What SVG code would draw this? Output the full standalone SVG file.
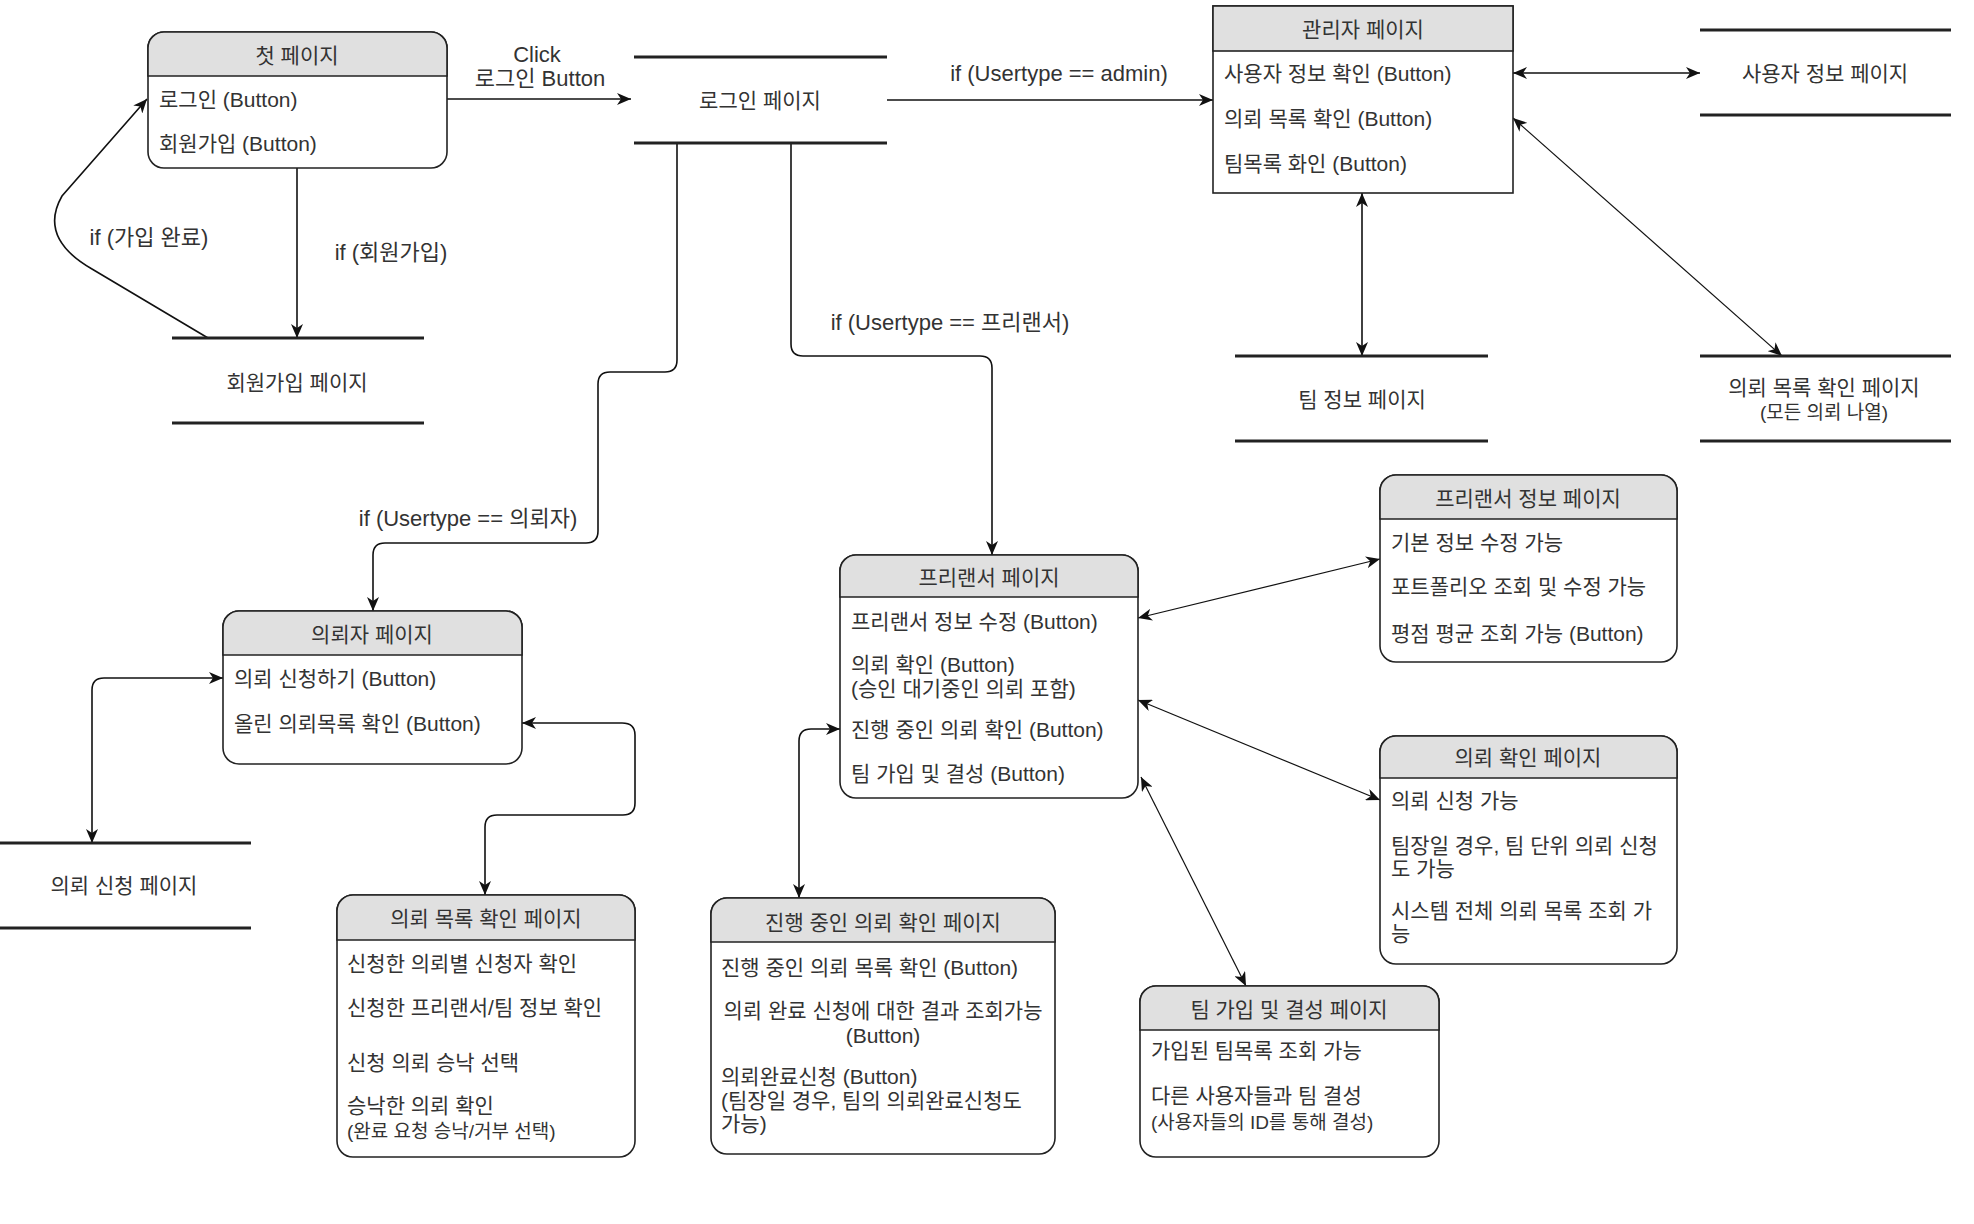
<svg xmlns="http://www.w3.org/2000/svg" width="1974" height="1224" viewBox="0 0 1974 1224">
<style>
text{font-family:"Liberation Sans","Noto Sans CJK KR",sans-serif;font-size:21px;fill:#333;dominant-baseline:central}
.c{text-anchor:middle}
.s{font-size:19px}
.l{font-size:22px}
.box{fill:#fff;stroke:#222;stroke-width:1.6}
.hd{fill:#e0e0e0;stroke:#222;stroke-width:1.6}
.ds{stroke:#222;stroke-width:3.2}
.e{fill:none;stroke:#111;stroke-width:1.6;marker-end:url(#a)}
.b{fill:none;stroke:#111;stroke-width:1.6;marker-end:url(#a);marker-start:url(#a)}
.t{stroke-width:1.2}
</style>
<defs>
<marker id="a" viewBox="0 0 14 12" refX="14" refY="6" markerWidth="14" markerHeight="12" markerUnits="userSpaceOnUse" orient="auto-start-reverse"><path d="M0,0 L14,6 L0,12 L4,6 z" fill="#111"/></marker>
</defs>
<rect width="1974" height="1224" fill="#fff"/>

<g id="edges">
<path class="e" d="M447,99 H631"/>
<path class="e" d="M297,168 V338"/>
<path class="e" d="M208,338 L92,269 Q38,238 62,196 L147,99"/>
<path class="e" d="M887,100 H1213"/>
<path class="e" d="M677,143 V360 Q677,372 665,372 H610 Q598,372 598,384 V531 Q598,543 586,543 H385 Q373,543 373,555 V611"/>
<path class="e" d="M791,143 V344 Q791,356 803,356 H980 Q992,356 992,368 V555"/>
<path class="b" d="M1513,73 H1700"/>
<path class="b" d="M1362,193 V356"/>
<path class="b t" d="M1513,118 L1782,356"/>
<path class="b" d="M223,678 H104 Q92,678 92,690 V843"/>
<path class="b" d="M522,723 H622 Q635,723 635,735 V803 Q635,815 623,815 H497 Q485,815 485,827 V895"/>
<path class="b" d="M840,729 H811 Q799,729 799,741 V898"/>
<path class="b t" d="M1138,618 L1380,559"/>
<path class="b t" d="M1138,700 L1380,800"/>
<path class="b t" d="M1141,777 L1246,986"/>
<text class="c l" x="537" y="54">Click</text>
<text class="c l" x="540" y="78">로그인 Button</text>
<text class="c l" x="391" y="252">if (회원가입)</text>
<text class="c l" x="149" y="237">if (가입 완료)</text>
<text class="c l" x="1059" y="73">if (Usertype == admin)</text>
<text class="c l" x="950" y="322">if (Usertype == 프리랜서)</text>
<text class="c l" x="468" y="518">if (Usertype == 의뢰자)</text>
</g>

<g id="first">
<rect class="box" x="148" y="32" width="299" height="136" rx="16"/>
<path class="hd" d="M148,76 V48 A16,16 0 0 1 164,32 H431 A16,16 0 0 1 447,48 V76 Z"/>
<text class="c" x="297" y="55">첫 페이지</text>
<text x="159" y="99">로그인 (Button)</text>
<text x="159" y="143">회원가입 (Button)</text>
</g>

<g id="login">
<line class="ds" x1="634" y1="57" x2="887" y2="57"/>
<line class="ds" x1="634" y1="143" x2="887" y2="143"/>
<text class="c" x="760" y="100">로그인 페이지</text>
</g>

<g id="signup">
<line class="ds" x1="172" y1="338" x2="424" y2="338"/>
<line class="ds" x1="172" y1="423" x2="424" y2="423"/>
<text class="c" x="297" y="382">회원가입 페이지</text>
</g>

<g id="admin">
<rect class="box" x="1213" y="6" width="300" height="187"/>
<rect class="hd" x="1213" y="6" width="300" height="45"/>
<text class="c" x="1363" y="29">관리자 페이지</text>
<text x="1224" y="73">사용자 정보 확인 (Button)</text>
<text x="1224" y="118">의뢰 목록 확인 (Button)</text>
<text x="1224" y="163">팀목록 화인 (Button)</text>
</g>

<g id="userinfo">
<line class="ds" x1="1700" y1="30" x2="1951" y2="30"/>
<line class="ds" x1="1700" y1="115" x2="1951" y2="115"/>
<text class="c" x="1825" y="73">사용자 정보 페이지</text>
</g>

<g id="teaminfo">
<line class="ds" x1="1235" y1="356" x2="1488" y2="356"/>
<line class="ds" x1="1235" y1="441" x2="1488" y2="441"/>
<text class="c" x="1362" y="399">팀 정보 페이지</text>
</g>

<g id="alllist">
<line class="ds" x1="1700" y1="356" x2="1951" y2="356"/>
<line class="ds" x1="1700" y1="441" x2="1951" y2="441"/>
<text class="c" x="1824" y="387">의뢰 목록 확인 페이지</text>
<text class="c s" x="1824" y="412">(모든 의뢰 나열)</text>
</g>

<g id="client">
<rect class="box" x="223" y="611" width="299" height="153" rx="16"/>
<path class="hd" d="M223,655 V627 A16,16 0 0 1 239,611 H506 A16,16 0 0 1 522,627 V655 Z"/>
<text class="c" x="372" y="634">의뢰자 페이지</text>
<text x="234" y="678">의뢰 신청하기 (Button)</text>
<text x="234" y="723">올린 의뢰목록 확인 (Button)</text>
</g>

<g id="request">
<line class="ds" x1="0" y1="843" x2="251" y2="843"/>
<line class="ds" x1="0" y1="928" x2="251" y2="928"/>
<text class="c" x="124" y="885">의뢰 신청 페이지</text>
</g>

<g id="clientlist">
<rect class="box" x="337" y="895" width="298" height="262" rx="16"/>
<path class="hd" d="M337,940 V911 A16,16 0 0 1 353,895 H619 A16,16 0 0 1 635,911 V940 Z"/>
<text class="c" x="486" y="918">의뢰 목록 확인 페이지</text>
<text x="347" y="963">신청한 의뢰별 신청자 확인</text>
<text x="347" y="1007">신청한 프리랜서/팀 정보 확인</text>
<text x="347" y="1062">신청 의뢰 승낙 선택</text>
<text x="347" y="1105">승낙한 의뢰 확인</text>
<text class="s" x="347" y="1131">(완료 요청 승낙/거부 선택)</text>
</g>

<g id="ongoing">
<rect class="box" x="711" y="898" width="344" height="256" rx="16"/>
<path class="hd" d="M711,942 V914 A16,16 0 0 1 727,898 H1039 A16,16 0 0 1 1055,914 V942 Z"/>
<text class="c" x="883" y="922">진행 중인 의뢰 확인 페이지</text>
<text x="721" y="967">진행 중인 의뢰 목록 확인 (Button)</text>
<text class="c" x="883" y="1010">의뢰 완료 신청에 대한 결과 조회가능</text>
<text class="c" x="883" y="1035">(Button)</text>
<text x="721" y="1076">의뢰완료신청 (Button)</text>
<text x="721" y="1100">(팀장일 경우, 팀의 의뢰완료신청도</text>
<text x="721" y="1123">가능)</text>
</g>

<g id="freelancer">
<rect class="box" x="840" y="555" width="298" height="243" rx="16"/>
<path class="hd" d="M840,597 V571 A16,16 0 0 1 856,555 H1122 A16,16 0 0 1 1138,571 V597 Z"/>
<text class="c" x="989" y="577">프리랜서 페이지</text>
<text x="851" y="621">프리랜서 정보 수정 (Button)</text>
<text x="851" y="664">의뢰 확인 (Button)</text>
<text x="851" y="688">(승인 대기중인 의뢰 포함)</text>
<text x="851" y="729">진행 중인 의뢰 확인 (Button)</text>
<text x="851" y="773">팀 가입 및 결성 (Button)</text>
</g>

<g id="flinfo">
<rect class="box" x="1380" y="475" width="297" height="187" rx="16"/>
<path class="hd" d="M1380,519 V491 A16,16 0 0 1 1396,475 H1661 A16,16 0 0 1 1677,491 V519 Z"/>
<text class="c" x="1528" y="498">프리랜서 정보 페이지</text>
<text x="1391" y="542">기본 정보 수정 가능</text>
<text x="1391" y="586">포트폴리오 조회 및 수정 가능</text>
<text x="1391" y="633">평점 평균 조회 가능 (Button)</text>
</g>

<g id="reqcheck">
<rect class="box" x="1380" y="736" width="297" height="228" rx="16"/>
<path class="hd" d="M1380,778 V752 A16,16 0 0 1 1396,736 H1661 A16,16 0 0 1 1677,752 V778 Z"/>
<text class="c" x="1528" y="757">의뢰 확인 페이지</text>
<text x="1391" y="800">의뢰 신청 가능</text>
<text x="1391" y="845">팀장일 경우, 팀 단위 의뢰 신청</text>
<text x="1391" y="868">도 가능</text>
<text x="1391" y="910">시스템 전체 의뢰 목록 조회 가</text>
<text x="1391" y="933">능</text>
</g>

<g id="team">
<rect class="box" x="1140" y="986" width="299" height="171" rx="16"/>
<path class="hd" d="M1140,1030 V1002 A16,16 0 0 1 1156,986 H1423 A16,16 0 0 1 1439,1002 V1030 Z"/>
<text class="c" x="1289" y="1009">팀 가입 및 결성 페이지</text>
<text x="1151" y="1050">가입된 팀목록 조회 가능</text>
<text x="1151" y="1095">다른 사용자들과 팀 결성</text>
<text class="s" x="1151" y="1122">(사용자들의 ID를 통해 결성)</text>
</g>
</svg>
